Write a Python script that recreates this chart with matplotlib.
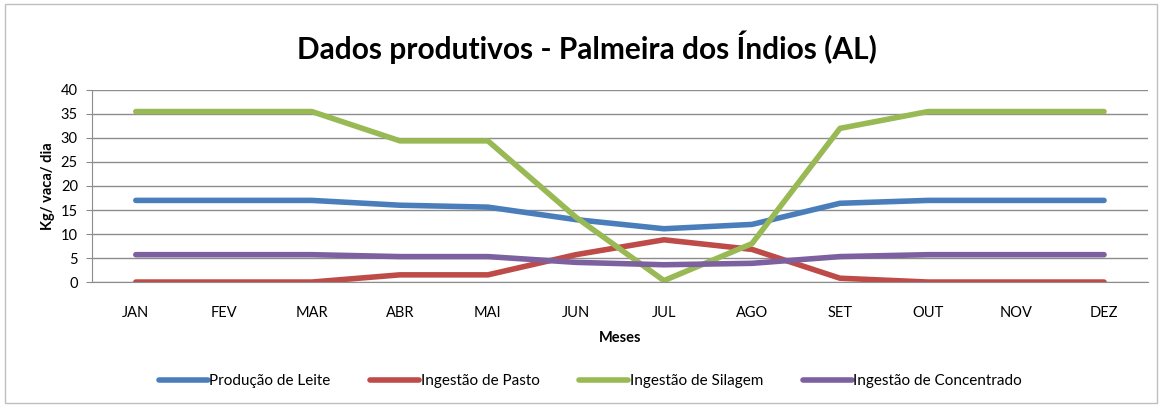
import matplotlib
matplotlib.use('Agg')
import matplotlib.pyplot as plt
from matplotlib.patches import Rectangle

plt.rcParams['font.family'] = ['Lato', 'DejaVu Sans']

# dados
meses = ['JAN', 'FEV', 'MAR', 'ABR', 'MAI', 'JUN', 'JUL', 'AGO', 'SET', 'OUT', 'NOV', 'DEZ']
leite = [17, 17, 17, 16, 15.6, 13, 11.1, 12, 16.4, 17, 17, 17]
pasto = [0, 0, 0, 1.5, 1.5, 5.7, 8.8, 6.8, 0.8, 0, 0, 0]
silagem = [35.5, 35.5, 35.5, 29.4, 29.4, 13.5, 0.3, 8, 32, 35.5, 35.5, 35.5]
concentrado = [5.7, 5.7, 5.7, 5.3, 5.3, 4.1, 3.6, 3.9, 5.3, 5.7, 5.7, 5.7]

series = [
    ('Produção de Leite', leite, '#4A7EBB'),
    ('Ingestão de Pasto', pasto, '#BE4B48'),
    ('Ingestão de Silagem', silagem, '#98B954'),
    ('Ingestão de Concentrado', concentrado, '#7D60A0'),
]

fig = plt.figure(figsize=(11.62, 4.07), dpi=100)
ax = fig.add_axes([0.079, 0.307, 0.909, 0.472])

x = range(len(meses))
for nome, vals, cor in series:
    ax.plot(x, vals, color=cor, linewidth=4, label=nome, solid_capstyle='round', solid_joinstyle='round')

ax.set_xlim(-0.5, len(meses) - 0.5)
ax.set_ylim(0, 40)
ax.set_yticks(range(0, 41, 5))
ax.set_xticks(list(x))
ax.set_xticklabels(meses)
ax.yaxis.grid(True, color='#8c8c8c', linewidth=1)
ax.set_axisbelow(True)
for s in ['top', 'right']:
    ax.spines[s].set_visible(False)
for s in ['left', 'bottom']:
    ax.spines[s].set_color('#8c8c8c')
ax.tick_params(axis='x', length=0, labelsize=10.5, pad=17)
ax.tick_params(axis='y', length=4, color='#8c8c8c', labelsize=10.5, pad=6)

ax.set_xlabel('Meses', fontsize=10.5, fontweight='bold', labelpad=8)
ax.set_ylabel('Kg/ vaca/ dia', fontsize=10.5, fontweight='bold', labelpad=4)
fig.text(0.505, 0.885, 'Dados produtivos - Palmeira dos Índios (AL)', ha='center', va='center',
         fontsize=21.5, fontweight='bold')

fig.legend(loc='center', bbox_to_anchor=(0.508, 0.063), ncol=4, frameon=False, fontsize=11,
           handlelength=3.2, handletextpad=0.1, columnspacing=2.6)

fig.patches.append(Rectangle((0.004, 0.01), 0.992, 0.98, transform=fig.transFigure,
                             fill=False, edgecolor='#bfbfbf', linewidth=1))

fig.savefig('out.png', dpi=100)
